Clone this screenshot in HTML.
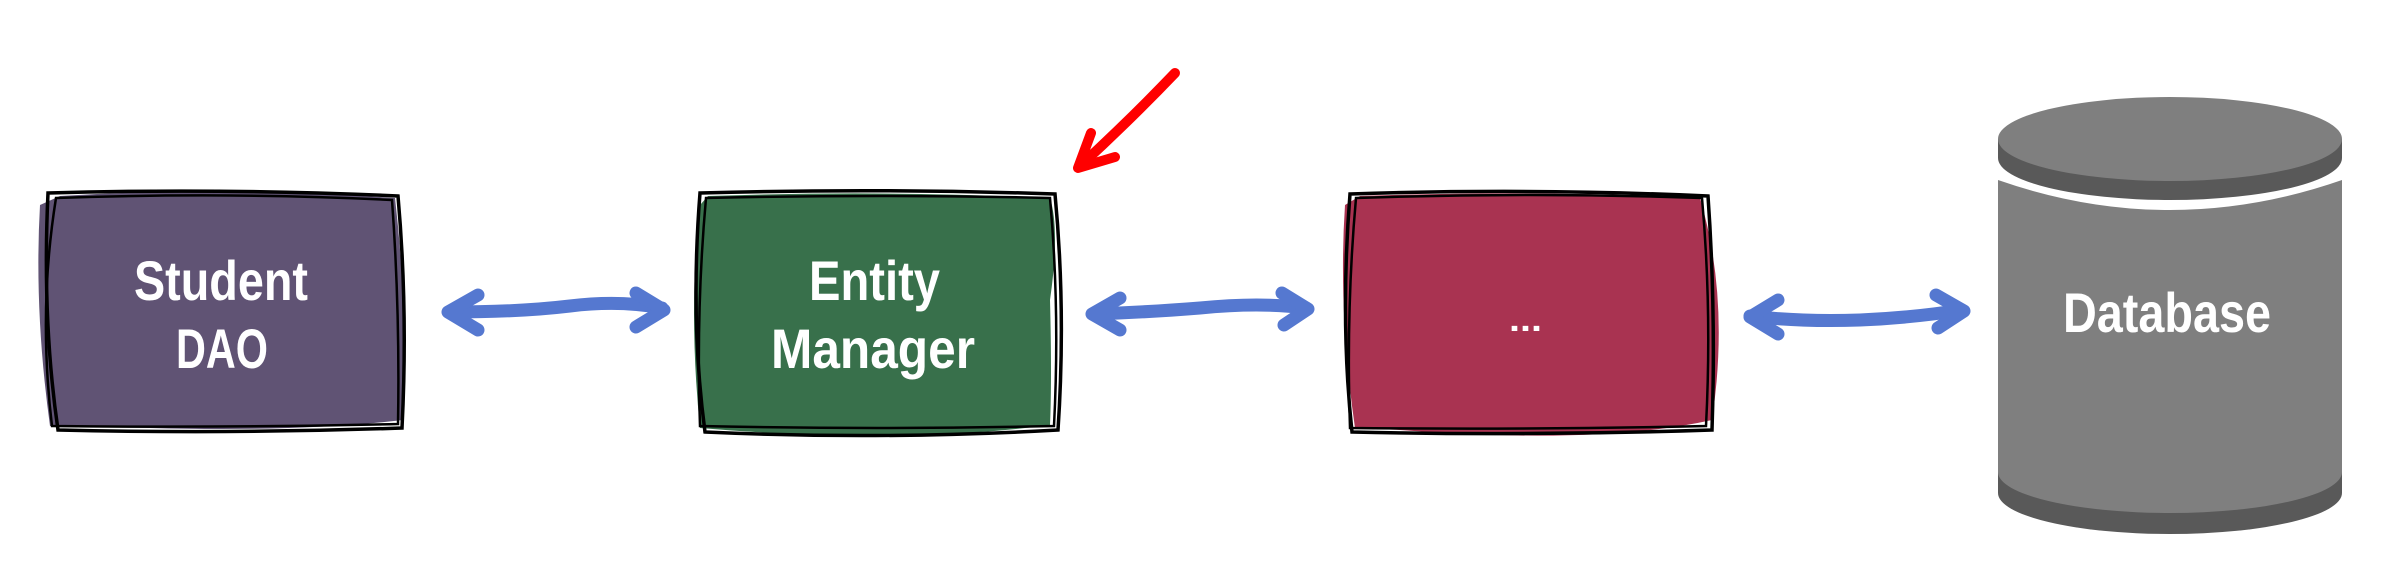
<!DOCTYPE html>
<html><head><meta charset="utf-8"><style>
html,body{margin:0;padding:0;background:#fff;}
svg{display:block}
text{font-family:"Liberation Sans",sans-serif;font-weight:bold;fill:#fff}
</style></head><body>
<svg width="2388" height="576" viewBox="0 0 2388 576" xmlns="http://www.w3.org/2000/svg">
<!-- Box 1 -->
<path d="M60,196 Q220,186 395,198 Q408,310 403,420 Q300,432 150,428 L50,426 Q34,310 40,205 Z" fill="#605374"/>
<path d="M48,193 Q220,188 398,196 Q408,310 402,428 Q230,434 58,430 Q42,320 48,193 Z" fill="none" stroke="#000" stroke-width="3.5"/>
<path d="M56,198 Q230,192 392,200 Q400,310 398,424 Q230,428 52,426 Q38,310 56,198 Z" fill="none" stroke="#000" stroke-width="2.5"/>
<text x="134" y="300" font-size="56" textLength="174" lengthAdjust="spacingAndGlyphs">Student</text>
<text x="176" y="368" font-size="56" textLength="92" lengthAdjust="spacingAndGlyphs">DAO</text>
<!-- Box 2 -->
<path d="M708,196 Q880,190 1050,198 Q1060,230 1050,300 Q1052,380 1050,425 Q900,445 700,428 Q688,310 700,205 Z" fill="#38704b"/>
<path d="M700,193 Q880,188 1055,194 Q1066,310 1058,430 Q880,440 705,432 Q690,320 700,193 Z" fill="none" stroke="#000" stroke-width="3.5"/>
<path d="M706,198 Q880,194 1050,198 Q1060,310 1054,426 Q880,430 700,426 Q696,310 706,198 Z" fill="none" stroke="#000" stroke-width="2.5"/>
<text x="809" y="300" font-size="56" textLength="131" lengthAdjust="spacingAndGlyphs">Entity</text>
<text x="771" y="368" font-size="56" textLength="204" lengthAdjust="spacingAndGlyphs">Manager</text>
<!-- Box 3 -->
<path d="M1360,196 Q1540,190 1700,198 Q1730,300 1712,420 Q1600,445 1400,430 L1355,428 Q1338,310 1345,205 Z" fill="#a93351"/>
<path d="M1350,194 Q1530,188 1708,196 Q1716,310 1712,430 Q1530,436 1352,432 Q1340,320 1350,194 Z" fill="none" stroke="#000" stroke-width="3.5"/>
<path d="M1356,198 Q1530,192 1702,198 Q1712,310 1706,426 Q1530,430 1350,428 Q1346,310 1356,198 Z" fill="none" stroke="#000" stroke-width="2.5"/>
<text x="1509" y="331" font-size="34" textLength="33" lengthAdjust="spacingAndGlyphs">...</text>
<!-- Cylinder -->
<path d="M1998,472 L1998,493 A172,41 0 0 0 2342,493 L2342,472 Z" fill="#595959"/>
<path d="M1998,180 Q2170,240 2342,180 L2342,472 A172,41 0 0 1 1998,472 Z" fill="#7f7f7f"/>
<path d="M1998,139 L1998,158 A172,42 0 0 0 2342,158 L2342,139 Z" fill="#595959"/>
<ellipse cx="2170" cy="139" rx="172" ry="42" fill="#7f7f7f"/>
<text x="2063" y="332" font-size="56" textLength="208" lengthAdjust="spacingAndGlyphs">Database</text>
<!-- Blue arrows -->
<g fill="none" stroke="#5578d0" stroke-width="13" stroke-linecap="round" stroke-linejoin="round">
<path d="M450,312 Q520,312 570,306 Q620,300 662,308"/>
<path d="M478,295 L448,312 L478,330"/>
<path d="M636,293 L664,310 L636,327"/>
<path d="M1094,314 Q1150,312 1200,308 Q1260,302 1306,308"/>
<path d="M1120,298 L1092,314 L1120,330"/>
<path d="M1282,293 L1308,309 L1284,325"/>
<path d="M1750,316 Q1800,322 1860,320 Q1910,318 1962,310"/>
<path d="M1778,300 L1750,317 L1778,334"/>
<path d="M1936,295 L1964,311 L1938,328"/>
</g>
<!-- Red arrow -->
<g fill="none" stroke="#ff0000" stroke-width="10" stroke-linecap="round" stroke-linejoin="round">
<path d="M1175,73 Q1130,120 1080,166"/>
<path d="M1091,133 L1078,168 L1115,157"/>
</g>
</svg>
</body></html>
